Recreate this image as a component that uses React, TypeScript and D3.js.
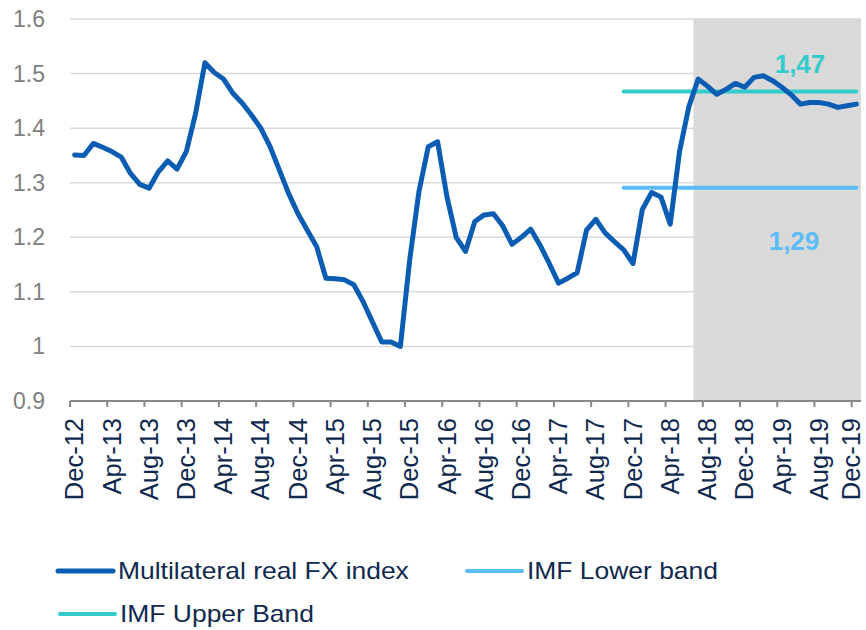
import React, { useEffect, useRef } from 'react';
import * as d3 from 'd3';

// monthly categories, Dec-12 .. Dec-19
const months = [
  'Dec-12',
  'Jan-13', 'Feb-13', 'Mar-13', 'Apr-13', 'May-13', 'Jun-13', 'Jul-13', 'Aug-13', 'Sep-13', 'Oct-13', 'Nov-13', 'Dec-13',
  'Jan-14', 'Feb-14', 'Mar-14', 'Apr-14', 'May-14', 'Jun-14', 'Jul-14', 'Aug-14', 'Sep-14', 'Oct-14', 'Nov-14', 'Dec-14',
  'Jan-15', 'Feb-15', 'Mar-15', 'Apr-15', 'May-15', 'Jun-15', 'Jul-15', 'Aug-15', 'Sep-15', 'Oct-15', 'Nov-15', 'Dec-15',
  'Jan-16', 'Feb-16', 'Mar-16', 'Apr-16', 'May-16', 'Jun-16', 'Jul-16', 'Aug-16', 'Sep-16', 'Oct-16', 'Nov-16', 'Dec-16',
  'Jan-17', 'Feb-17', 'Mar-17', 'Apr-17', 'May-17', 'Jun-17', 'Jul-17', 'Aug-17', 'Sep-17', 'Oct-17', 'Nov-17', 'Dec-17',
  'Jan-18', 'Feb-18', 'Mar-18', 'Apr-18', 'May-18', 'Jun-18', 'Jul-18', 'Aug-18', 'Sep-18', 'Oct-18', 'Nov-18', 'Dec-18',
  'Jan-19', 'Feb-19', 'Mar-19', 'Apr-19', 'May-19', 'Jun-19', 'Jul-19', 'Aug-19', 'Sep-19', 'Oct-19', 'Nov-19', 'Dec-19',
];

const fxIndex = [
  1.351, 1.35, 1.372, 1.365, 1.357, 1.347, 1.317, 1.297, 1.29, 1.32, 1.34, 1.325, 1.357,
  1.427, 1.52, 1.502, 1.49, 1.464, 1.446, 1.424, 1.4, 1.366, 1.323, 1.28, 1.243,
  1.213, 1.183, 1.125, 1.124, 1.122, 1.113, 1.082, 1.045, 1.008, 1.008, 1.0, 1.158,
  1.284, 1.366, 1.375, 1.275, 1.2, 1.174, 1.229, 1.241, 1.243, 1.221, 1.187, 1.2,
  1.215, 1.186, 1.152, 1.116, 1.125, 1.135, 1.213, 1.233, 1.208, 1.192, 1.177, 1.152,
  1.251, 1.282, 1.274, 1.224, 1.357, 1.439, 1.49, 1.477, 1.462, 1.471, 1.482, 1.475,
  1.493, 1.496, 1.487, 1.475, 1.461, 1.444, 1.447, 1.447, 1.444, 1.438, 1.441, 1.444,
];

const imfUpper = 1.467;
const imfLower = 1.291;
const bandStart = 'Nov-17';
const bandEnd = 'Dec-19';
const shadeStart = 'Jul-18';

const yTicks = [0.9, 1, 1.1, 1.2, 1.3, 1.4, 1.5, 1.6];

const legendItems = [
  { label: 'Multilateral real FX index', color: '#0b5db4', width: 5 },
  { label: 'IMF Lower band', color: '#5cbcf9', width: 4 },
  { label: 'IMF Upper Band', color: '#33cccc', width: 4 },
];

const App = () => {
  const chart = useRef<SVGSVGElement>(null);

  useEffect(() => {
    const svg = d3.select(chart.current);
    svg.selectAll('*').remove();

    const margin = { top: 19, right: 5, bottom: 229, left: 70 };
    const width = 866;
    const height = 630;
    const font = "'Liberation Sans', Arial, sans-serif";

    const x = d3
      .scaleBand()
      .domain(months)
      .range([margin.left, width - margin.right])
      .padding(0);
    const cx = (m) => x(m) + x.bandwidth() / 2;

    const y = d3
      .scaleLinear()
      .domain([0.9, 1.6])
      .range([height - margin.bottom, margin.top]);

    // gridlines
    svg
      .append('g')
      .selectAll('line')
      .data(yTicks.slice(1))
      .join('line')
      .attr('x1', margin.left)
      .attr('x2', width - margin.right)
      .attr('y1', (d) => y(d))
      .attr('y2', (d) => y(d))
      .attr('stroke', '#d9d9d9')
      .attr('stroke-width', 1.5);

    // shaded forecast region
    svg
      .append('rect')
      .attr('x', x(shadeStart))
      .attr('y', y(1.6))
      .attr('width', width - margin.right - x(shadeStart))
      .attr('height', y(0.9) - y(1.6))
      .attr('fill', '#d9d9d9');

    // y labels
    svg
      .append('g')
      .selectAll('text')
      .data(yTicks)
      .join('text')
      .attr('x', 45)
      .attr('y', (d) => y(d))
      .attr('dy', '0.35em')
      .attr('text-anchor', 'end')
      .attr('font-family', font)
      .attr('font-size', 23)
      .attr('fill', '#808080')
      .text((d) => (d === 1 ? '1' : d3.format('.1f')(d)));

    // x axis
    const axisY = y(0.9);
    svg
      .append('line')
      .attr('x1', margin.left)
      .attr('x2', width - margin.right)
      .attr('y1', axisY)
      .attr('y2', axisY)
      .attr('stroke', '#898989')
      .attr('stroke-width', 2);

    const tickMonths = months.filter((m, i) => i % 4 === 0);
    svg
      .append('g')
      .selectAll('line')
      .data(tickMonths)
      .join('line')
      .attr('x1', (d) => x(d))
      .attr('x2', (d) => x(d))
      .attr('y1', axisY)
      .attr('y2', axisY + 6)
      .attr('stroke', '#898989')
      .attr('stroke-width', 2);

    svg
      .append('g')
      .selectAll('text')
      .data(tickMonths)
      .join('text')
      .attr('transform', (d) => `translate(${Math.min(cx(d), 851)},${axisY + 17}) rotate(-90)`)
      .attr('dy', '0.34em')
      .attr('text-anchor', 'end')
      .attr('font-family', font)
      .attr('font-size', 25.5)
      .attr('fill', '#10294f')
      .text((d) => d);

    // IMF bands
    const bands = [
      { v: imfUpper, color: '#33cccc', label: '1,47', lx: 800, ly: 73 },
      { v: imfLower, color: '#5cbcf9', label: '1,29', lx: 794, ly: 250 },
    ];
    svg
      .append('g')
      .selectAll('line')
      .data(bands)
      .join('line')
      .attr('x1', cx(bandStart))
      .attr('x2', cx(bandEnd))
      .attr('y1', (d) => y(d.v))
      .attr('y2', (d) => y(d.v))
      .attr('stroke', (d) => d.color)
      .attr('stroke-width', 4)
      .attr('stroke-linecap', 'round');

    // main index line
    const line = d3
      .line<number>()
      .x((d, i) => cx(months[i]))
      .y((d) => y(d));

    svg
      .append('path')
      .attr('d', line(fxIndex))
      .attr('fill', 'none')
      .attr('stroke', '#0b5db4')
      .attr('stroke-width', 5)
      .attr('stroke-linejoin', 'round')
      .attr('stroke-linecap', 'round');

    svg
      .append('g')
      .selectAll('text')
      .data(bands)
      .join('text')
      .attr('x', (d) => d.lx)
      .attr('y', (d) => d.ly)
      .attr('text-anchor', 'middle')
      .attr('font-family', font)
      .attr('font-size', 26)
      .attr('font-weight', 'bold')
      .attr('fill', (d) => d.color)
      .text((d) => d.label);

    // legend
    const legendPos = [
      { x: 58, y: 571 },
      { x: 467, y: 571 },
      { x: 60, y: 614 },
    ];
    const lg = svg
      .append('g')
      .selectAll('g')
      .data(legendItems)
      .join('g')
      .attr('transform', (d, i) => `translate(${legendPos[i].x},${legendPos[i].y})`);

    lg.append('line')
      .attr('x1', 0)
      .attr('x2', 55)
      .attr('stroke', (d) => d.color)
      .attr('stroke-width', (d) => d.width)
      .attr('stroke-linecap', 'round');

    lg.append('text')
      .attr('transform', 'translate(60,0) scale(1.15,1)')
      .attr('dy', '0.35em')
      .attr('font-family', font)
      .attr('font-size', 23)
      .attr('fill', '#10294f')
      .text((d) => d.label);
  }, []);

  return (
    <svg
      ref={chart}
      width={866}
      height={630}
      style={{ position: 'absolute', left: 0, top: 0, background: '#fff' }}
    />
  );
};

export default App;
